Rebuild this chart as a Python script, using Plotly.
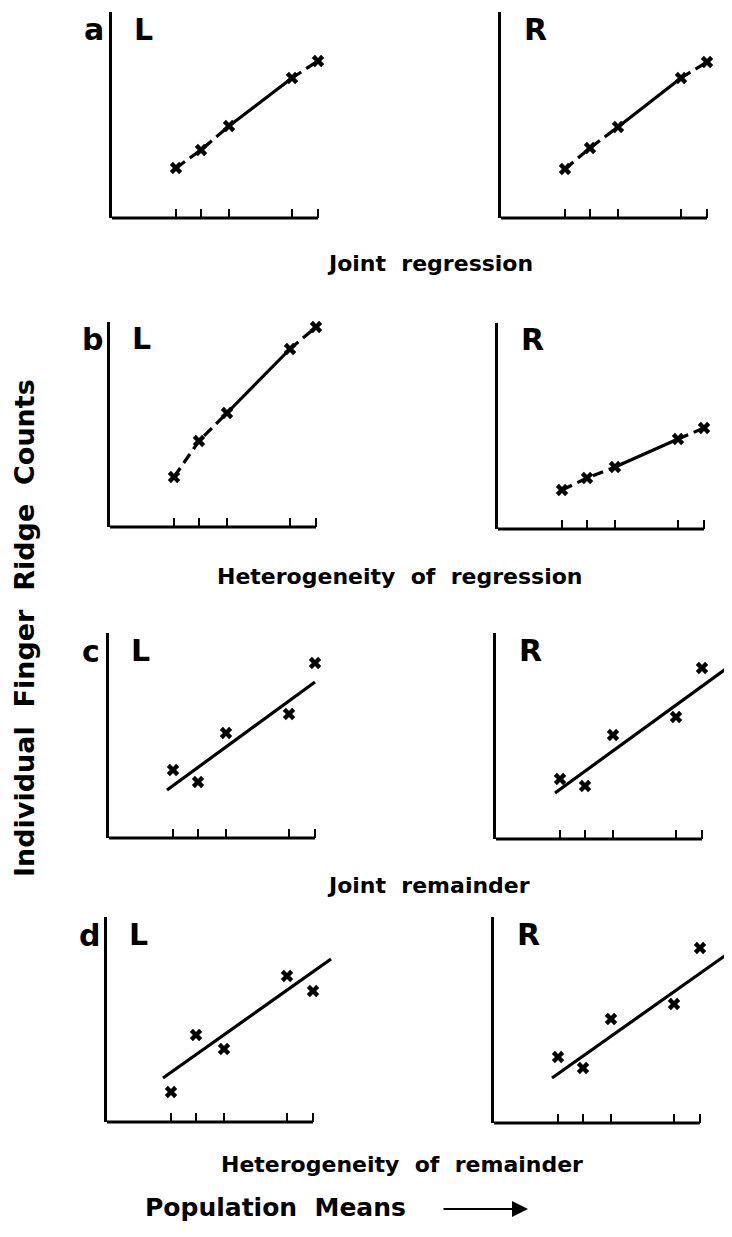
import plotly.graph_objects as go

# ---------------- data ----------------
pop_means = [6.4, 8.9, 11.7, 18.0, 20.6]          # population means (x, arbitrary units)

a_L = [5.0, 6.8, 9.2, 14.0, 15.7]
a_R = [4.9, 7.0, 9.1, 14.0, 15.6]
b_L = [5.0, 8.6, 11.4, 17.8, 20.0]
b_R = [3.9, 5.1, 6.2, 9.0, 10.1]
c_L = [6.8, 5.6, 10.5, 12.4, 17.5]
c_R = [6.0, 5.3, 10.4, 12.2, 17.1]
d_L = [3.0, 8.7, 7.3, 14.6, 13.1]
d_R = [6.6, 5.5, 10.4, 11.9, 17.5]

# fitted lines (end points) for rows c and d
c_L_fit_x = [5.8, 20.6]
c_L_fit_y = [4.8, 15.6]
c_R_fit_x = [5.9, 23.1]
c_R_fit_y = [4.6, 17.1]
d_L_fit_x = [5.6, 22.4]
d_L_fit_y = [4.4, 16.3]
d_R_fit_x = [5.8, 23.9]
d_R_fit_y = [4.5, 17.3]

row_letters = ["a", "b", "c", "d"]
side_labels = ["L", "R"]
row_titles = ["Joint  regression", "Heterogeneity  of  regression",
              "Joint  remainder", "Heterogeneity  of  remainder"]
y_title = "Individual  Finger  Ridge  Counts"
x_title = "Population  Means"

# ---------------- layout geometry (page pixels) ----------------
PAGE_OFF = 8                 # default body margin of the html page
W, H = 732 - PAGE_OFF, 1237 - PAGE_OFF
SCALE = 10.0                 # pixels per data unit

def px(x):
    return (x - PAGE_OFF) / W

def py(y):
    return 1 - (y - PAGE_OFF) / H

# (origin x, top y, bottom y) for each panel, in page pixels
boxes = {
    ("a", "L"): (112, 12, 218), ("a", "R"): (501, 12, 218),
    ("b", "L"): (110, 322, 527), ("b", "R"): (498, 323, 529),
    ("c", "L"): (109, 633, 838), ("c", "R"): (496, 633, 839),
    ("d", "L"): (107, 917, 1122), ("d", "R"): (494, 917, 1123),
}

series = {
    ("a", "L"): a_L, ("a", "R"): a_R, ("b", "L"): b_L, ("b", "R"): b_R,
    ("c", "L"): c_L, ("c", "R"): c_R, ("d", "L"): d_L, ("d", "R"): d_R,
}
fits = {
    ("c", "L"): (c_L_fit_x, c_L_fit_y), ("c", "R"): (c_R_fit_x, c_R_fit_y),
    ("d", "L"): (d_L_fit_x, d_L_fit_y), ("d", "R"): (d_R_fit_x, d_R_fit_y),
}

FONT = "DejaVu Sans"
fig = go.Figure()
layout = dict(width=W, height=H, margin=dict(l=0, r=0, t=0, b=0),
              paper_bgcolor="white", plot_bgcolor="white", showlegend=False)
shapes = []
annotations = []

k = 0
for r in row_letters:
    for s in side_labels:
        k += 1
        x0, top, bot = boxes[(r, s)]
        xend = x0 + 240 if s == "L" else 732
        xr = (xend - x0) / SCALE
        yr = (bot - top) / SCALE
        xa = "x" if k == 1 else f"x{k}"
        ya = "y" if k == 1 else f"y{k}"
        layout["xaxis" if k == 1 else f"xaxis{k}"] = dict(
            domain=[px(x0), px(xend)], range=[0, xr], anchor=ya,
            showgrid=False, zeroline=False, showline=False,
            ticks="inside", tickvals=pop_means, ticklen=9, tickwidth=2,
            tickcolor="black", showticklabels=False, fixedrange=True)
        layout["yaxis" if k == 1 else f"yaxis{k}"] = dict(
            domain=[py(bot), py(top)], range=[0, yr], anchor=xa,
            showgrid=False, zeroline=False, showline=True, linecolor="black",
            linewidth=3, ticks="", showticklabels=False, fixedrange=True)
        vals = series[(r, s)]
        if r in ("a", "b"):
            fig.add_trace(go.Scatter(
                x=pop_means[:3] + [None] + pop_means[3:],
                y=vals[:3] + [None] + vals[3:],
                mode="lines", xaxis=xa, yaxis=ya,
                line=dict(color="black", width=3.2, dash="11px,6px")))
            fig.add_trace(go.Scatter(
                x=pop_means[2:4], y=vals[2:4], mode="lines", xaxis=xa, yaxis=ya,
                line=dict(color="black", width=3.2)))
        else:
            fx, fy = fits[(r, s)]
            fig.add_trace(go.Scatter(
                x=fx, y=fy, mode="lines", xaxis=xa, yaxis=ya,
                line=dict(color="black", width=3.2)))
        fig.add_trace(go.Scatter(
            x=pop_means, y=vals, mode="markers", xaxis=xa, yaxis=ya,
            cliponaxis=False,
            marker=dict(symbol="x", size=11, color="black", line=dict(width=0))))
        # bottom axis line (ends at last tick)
        shapes.append(dict(type="line", xref=xa, yref="paper",
                           x0=0, x1=pop_means[-1], y0=py(bot), y1=py(bot),
                           line=dict(color="black", width=3)))
        # panel labels
        if s == "L":
            annotations.append(dict(text=r, x=px(x0 - 18), y=py(top + 18),
                                    xref="paper", yref="paper", showarrow=False,
                                    xanchor="center", yanchor="middle",
                                    font=dict(family=FONT, size=30, color="black",
                                              weight="bold")))
        annotations.append(dict(text=s, x=px(x0 + 31 if s == "L" else x0 + 34),
                                y=py(top + 17), xref="paper", yref="paper",
                                showarrow=False, xanchor="center", yanchor="middle",
                                font=dict(family=FONT, size=30, color="black",
                                          weight="bold")))

# row titles
title_pos = [(430, 263), (400, 576), (428, 885), (402, 1164)]
for t, (tx, ty) in zip(row_titles, title_pos):
    annotations.append(dict(text=t.replace(" ", "\u00a0"), x=px(tx), y=py(ty),
                            xref="paper", yref="paper", showarrow=False,
                            xanchor="center", yanchor="middle",
                            font=dict(family=FONT, size=22, color="black",
                                      weight="bold")))

# y title
annotations.append(dict(text=y_title.replace(" ", "\u00a0"), x=px(24), y=py(628),
                        xref="paper", yref="paper", showarrow=False, textangle=-90,
                        xanchor="center", yanchor="middle",
                        font=dict(family=FONT, size=27, color="black", weight="bold")))

# x title with arrow
annotations.append(dict(text=x_title.replace(" ", "\u00a0"), x=px(143), y=py(1207),
                        xref="paper", yref="paper", showarrow=False,
                        xanchor="left", yanchor="middle",
                        font=dict(family=FONT, size=25, color="black", weight="bold")))
annotations.append(dict(text="", x=px(528), y=py(1209), xref="paper", yref="paper",
                        showarrow=True, ax=-86, ay=0, axref="pixel", ayref="pixel",
                        arrowhead=2, arrowsize=1.6, arrowwidth=2, arrowcolor="black"))

layout["shapes"] = shapes
layout["annotations"] = annotations
fig.update_layout(**layout)
fig.write_html("out.html")
